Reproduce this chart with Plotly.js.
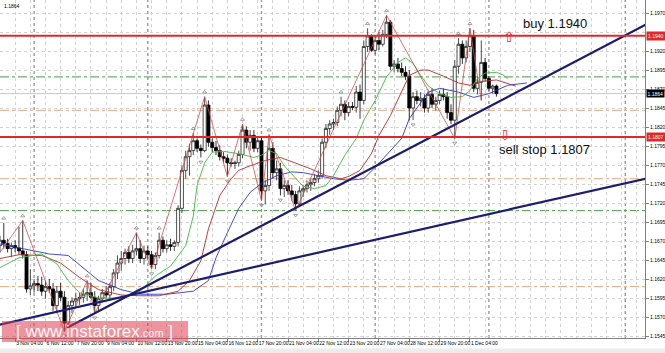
<!DOCTYPE html>
<html><head><meta charset="utf-8">
<script src="https://cdn.plot.ly/plotly-3.0.1.min.js"></script>
<style>html,body{margin:0;padding:0;background:#fff;}#chart{width:665px;height:353px;}</style>
</head><body><div id="chart"></div>
<script>
// ---- candle data (EURUSD H4) ----
const open = [
1.1664,1.1671,1.1667,1.1660,1.1664,1.1661,1.1657,1.1652,1.1607,1.1611,
1.1614,1.1612,1.1604,1.1610,1.1607,1.1585,1.1604,1.1596,1.1562,1.1585,
1.1591,1.1594,1.1596,1.1600,1.1602,1.1596,1.1585,1.1594,1.1602,1.1599,
1.1610,1.1628,1.1641,1.1647,1.1655,1.1647,1.1657,1.1660,1.1647,1.1657,
1.1652,1.1639,1.1651,1.1671,1.1660,1.1665,1.1663,1.1668,1.1713,1.1763,
1.1781,1.1789,1.1802,1.1792,1.1789,1.1849,1.1800,1.1793,1.1789,1.1781,
1.1779,1.1773,1.1772,1.1773,1.1784,1.1816,1.1800,1.1809,1.1792,1.1802,
1.1736,1.1743,1.1792,1.1760,1.1765,1.1739,1.1743,1.1736,1.1731,1.1719,
1.1736,1.1739,1.1744,1.1747,1.1752,1.1756,1.1800,1.1818,1.1824,1.1826,
1.1842,1.1850,1.1839,1.1847,1.1846,1.1866,1.1855,1.1926,1.1940,1.1921,
1.1934,1.1929,1.1942,1.1958,1.1900,1.1903,1.1897,1.1892,1.1887,1.1845,
1.1860,1.1855,1.1858,1.1845,1.1863,1.1850,1.1855,1.1863,1.1860,1.1839,
1.1829,1.1900,1.1929,1.1911,1.1926,1.1940,1.1871,1.1879,1.1905,1.1884,
1.1871,1.1874];
const high = [
1.1677,1.1694,1.1673,1.1668,1.1671,1.1689,1.1697,1.1657,1.1633,1.1620,
1.1624,1.1623,1.1618,1.1620,1.1615,1.1611,1.1615,1.1604,1.1591,1.1596,
1.1602,1.1602,1.1607,1.1618,1.1615,1.1604,1.1598,1.1607,1.1611,1.1615,
1.1633,1.1651,1.1657,1.1660,1.1663,1.1665,1.1681,1.1671,1.1664,1.1663,
1.1657,1.1655,1.1681,1.1676,1.1671,1.1673,1.1671,1.1717,1.1769,1.1789,
1.1798,1.1812,1.1805,1.1797,1.1860,1.1855,1.1805,1.1802,1.1796,1.1787,
1.1784,1.1779,1.1776,1.1789,1.1824,1.1821,1.1816,1.1816,1.1808,1.1808,
1.1750,1.1810,1.1800,1.1776,1.1773,1.1750,1.1750,1.1744,1.1736,1.1742,
1.1744,1.1750,1.1752,1.1758,1.1763,1.1805,1.1824,1.1829,1.1831,1.1847,
1.1860,1.1855,1.1853,1.1853,1.1874,1.1876,1.1934,1.1950,1.1942,1.1940,
1.1945,1.1948,1.1967,1.1961,1.1908,1.1911,1.1905,1.1900,1.1895,1.1866,
1.1868,1.1866,1.1863,1.1868,1.1871,1.1860,1.1868,1.1871,1.1866,1.1850,
1.1908,1.1937,1.1934,1.1934,1.1950,1.1948,1.1887,1.1934,1.1911,1.1887,
1.1876,1.1876];
const low = [
1.1655,1.1660,1.1655,1.1649,1.1655,1.1652,1.1647,1.1602,1.1599,1.1602,
1.1604,1.1598,1.1594,1.1602,1.1578,1.1575,1.1591,1.1551,1.1554,1.1575,
1.1583,1.1586,1.1589,1.1591,1.1594,1.1575,1.1578,1.1589,1.1594,1.1594,
1.1604,1.1620,1.1631,1.1639,1.1641,1.1641,1.1651,1.1641,1.1639,1.1647,
1.1633,1.1633,1.1647,1.1655,1.1655,1.1657,1.1657,1.1663,1.1707,1.1752,
1.1756,1.1783,1.1787,1.1780,1.1787,1.1794,1.1787,1.1783,1.1776,1.1773,
1.1755,1.1768,1.1765,1.1768,1.1779,1.1792,1.1789,1.1787,1.1787,1.1723,
1.1718,1.1736,1.1752,1.1750,1.1730,1.1728,1.1731,1.1723,1.1710,1.1715,
1.1728,1.1734,1.1736,1.1742,1.1747,1.1752,1.1792,1.1810,1.1816,1.1821,
1.1834,1.1829,1.1834,1.1842,1.1839,1.1831,1.1850,1.1919,1.1919,1.1916,
1.1921,1.1926,1.1937,1.1895,1.1892,1.1892,1.1887,1.1882,1.1829,1.1829,
1.1850,1.1847,1.1839,1.1839,1.1845,1.1842,1.1850,1.1855,1.1831,1.1824,
1.1805,1.1890,1.1903,1.1905,1.1919,1.1866,1.1863,1.1855,1.1880,1.1868,
1.1864,1.1860];
const close = [
1.1671,1.1667,1.1660,1.1664,1.1661,1.1657,1.1652,1.1607,1.1611,1.1614,
1.1612,1.1604,1.1610,1.1607,1.1585,1.1604,1.1596,1.1562,1.1585,1.1591,
1.1594,1.1596,1.1600,1.1602,1.1596,1.1585,1.1594,1.1602,1.1599,1.1610,
1.1628,1.1641,1.1647,1.1655,1.1647,1.1657,1.1660,1.1647,1.1657,1.1652,
1.1639,1.1651,1.1671,1.1660,1.1665,1.1663,1.1668,1.1713,1.1763,1.1781,
1.1789,1.1802,1.1792,1.1789,1.1849,1.1800,1.1793,1.1789,1.1781,1.1779,
1.1773,1.1772,1.1773,1.1784,1.1816,1.1800,1.1809,1.1792,1.1802,1.1736,
1.1743,1.1792,1.1760,1.1765,1.1739,1.1743,1.1736,1.1731,1.1719,1.1736,
1.1739,1.1744,1.1747,1.1752,1.1756,1.1800,1.1818,1.1824,1.1826,1.1842,
1.1850,1.1839,1.1847,1.1846,1.1866,1.1855,1.1926,1.1940,1.1921,1.1934,
1.1929,1.1942,1.1958,1.1900,1.1903,1.1897,1.1892,1.1887,1.1845,1.1860,
1.1855,1.1858,1.1845,1.1863,1.1850,1.1855,1.1863,1.1860,1.1839,1.1829,
1.1900,1.1929,1.1911,1.1926,1.1940,1.1871,1.1879,1.1905,1.1884,1.1871,
1.1874,1.1864];

// ---- time axis labels (bar index -> label) ----
const tickBars = [4,12,20,28,36,44,52,60,68,76,84,92,100,108,116,124];
const tickLabels = ['3 Nov 04:00','6 Nov 12:00','7 Nov 20:00','9 Nov 04:00','10 Nov 12:00','13 Nov 20:00',
 '15 Nov 04:00','16 Nov 12:00','17 Nov 20:00','21 Nov 04:00','22 Nov 12:00','23 Nov 20:00',
 '27 Nov 04:00','28 Nov 12:00','29 Nov 20:00','1 Dec 04:00'];
const separatorBars = [9,39,69,99,129,165];

// ---- price scale labels (1.1945 is hidden behind the 1.1940 marker) ----
const priceTicks = [1.1545,1.1570,1.1595,1.1620,1.1645,1.1670,1.1695,1.1720,1.1745,1.1770,1.1795,1.1820,1.1845,1.1870,1.1895,1.1920,1.1970];

// ---- Alligator lines ----
const lipsBars = [0,5,11,15,18,21,26,32,37,41,45,49,51,52,54,56,59,63,67,69,71,73,75,78,80,83,86,88,91,94,96,99,102,105,107,109,111,113,116,119,122,124,126,128,131,133,134];
const lipsVals = [1.1635,1.1648,1.1653,1.1640,1.1618,1.1602,1.1595,1.1595,1.1604,1.1624,1.1637,1.1664,1.1703,1.1743,1.1773,1.1787,1.1788,1.1785,1.1780,1.1783,1.1789,1.1785,1.1769,1.1752,1.1742,1.1739,1.1743,1.1756,1.1783,1.1805,1.1829,1.1855,1.1886,1.1905,1.1911,1.1904,1.1888,1.1874,1.1864,1.1859,1.1860,1.1868,1.1884,1.1891,1.1892,1.1888,1.1883];
const teethBars = [0,5,11,16,21,26,32,37,42,47,50,53,55,58,61,63,66,70,74,78,82,86,90,92,95,98,100,103,106,108,111,113,117,121,124,127,131,135,136];
const teethVals = [1.1647,1.1652,1.1651,1.1641,1.1622,1.1606,1.1599,1.1598,1.1598,1.1604,1.1618,1.1644,1.1686,1.1730,1.1752,1.1763,1.1769,1.1776,1.1780,1.1773,1.1765,1.1756,1.1752,1.1755,1.1763,1.1785,1.1809,1.1835,1.1868,1.1888,1.1895,1.1895,1.1887,1.1878,1.1875,1.1880,1.1882,1.1876,1.1874];
const jawBars = [0,5,13,18,22,26,32,37,44,51,55,57,60,63,66,69,73,77,80,84,88,92,96,99,103,106,108,111,113,116,121,125,129,134,139];
const jawVals = [1.1666,1.1661,1.1653,1.1651,1.1635,1.1618,1.1606,1.1600,1.1600,1.1604,1.1618,1.1648,1.1681,1.1713,1.1734,1.1746,1.1756,1.1761,1.1760,1.1756,1.1752,1.1750,1.1752,1.1767,1.1789,1.1805,1.1831,1.1852,1.1866,1.1871,1.1866,1.1859,1.1864,1.1875,1.1878];

// ---- ZigZag turning points and fractals (bar indices) ----
const zigzagBars = [0,6,17,23,25,36,40,54,60,64,69,71,78,102,120,124,127];
const zigzagSide = ['L','H','L','H','L','H','L','H','L','H','L','H','L','H','L','H','L'];
const fractalUpBars = [1,6,23,36,42,51,54,64,71,90,97,102,121,124];
const fractalDownBars = [17,25,40,53,60,69,74,78,109,120];

// ---- levels and trend lines ----
const redLevels = [1.1940, 1.1807];
const greenLevels = [1.1886, 1.1710];
const orangeLevels = [1.1842, 1.1752, 1.1610];
const lastPrice = 1.1864;
const steepTrendBars = [17.7, 180], steepTrendVals = [1.1556, 1.1980];
const flatTrendBars = [-1, 180], flatTrendVals = [1.1559, 1.1763];

const bars = open.map((_, i) => i);
const yMin = 1.15424, yMax = 1.19872;

const traces = [];
traces.push({type:'scatter', mode:'lines', x:jawBars, y:jawVals, line:{color:'#3535c8', width:0.9}, hoverinfo:'skip'});
traces.push({type:'scatter', mode:'lines', x:teethBars, y:teethVals, line:{color:'#b52a2a', width:0.9}, hoverinfo:'skip'});
traces.push({type:'scatter', mode:'lines', x:lipsBars, y:lipsVals, line:{color:'#3cbc3c', width:0.9}, hoverinfo:'skip'});
traces.push({type:'scatter', mode:'lines', x:zigzagBars,
  y:zigzagBars.map((b, k) => zigzagSide[k] === 'H' ? high[b] : low[b]),
  line:{color:'#d05050', width:0.8}, hoverinfo:'skip'});
traces.push({type:'candlestick', x:bars, open:open, high:high, low:low, close:close,
  increasing:{fillcolor:'#ffffff', line:{color:'#222', width:0.8}},
  decreasing:{fillcolor:'#000000', line:{color:'#000', width:0.8}},
  whiskerwidth:0, hoverinfo:'skip'});
traces.push({type:'scatter', mode:'markers', x:fractalUpBars, y:fractalUpBars.map(b => high[b] + 0.0006),
  marker:{symbol:'triangle-up-open', size:3.5, color:'#8a8a8a', line:{width:0.8}}, hoverinfo:'skip'});
traces.push({type:'scatter', mode:'markers', x:fractalDownBars, y:fractalDownBars.map(b => low[b] - 0.0006),
  marker:{symbol:'triangle-down-open', size:3.5, color:'#8a8a8a', line:{width:0.8}}, hoverinfo:'skip'});
traces.push({type:'scatter', mode:'lines', x:steepTrendBars, y:steepTrendVals, line:{color:'#1c1c70', width:2.2}, hoverinfo:'skip'});
traces.push({type:'scatter', mode:'lines', x:flatTrendBars, y:flatTrendVals, line:{color:'#1c1c70', width:2.2}, hoverinfo:'skip'});

const shapes = [];
separatorBars.forEach(b => shapes.push({type:'line', xref:'x', yref:'paper', x0:b, x1:b, y0:0, y1:1,
  line:{color:'#9a9a9a', width:1.4, dash:'dot'}, layer:'below'}));
greenLevels.forEach(v => shapes.push({type:'line', xref:'paper', yref:'y', x0:0, x1:1, y0:v, y1:v,
  line:{color:'#4a9a4a', width:1, dash:'dashdot'}, layer:'below'}));
orangeLevels.forEach(v => shapes.push({type:'line', xref:'paper', yref:'y', x0:0, x1:1, y0:v, y1:v,
  line:{color:'#e4a884', width:1, dash:'dashdot'}, layer:'below'}));
shapes.push({type:'line', xref:'paper', yref:'y', x0:0, x1:1, y0:lastPrice, y1:lastPrice,
  line:{color:'#c8c8c8', width:1}, layer:'below'});
redLevels.forEach(v => shapes.push({type:'line', xref:'paper', yref:'y', x0:0, x1:1, y0:v, y1:v,
  line:{color:'#e02828', width:2}, layer:'above'}));
// watermark box
shapes.push({type:'rect', xref:'paper', yref:'paper', x0:0.003, x1:0.2915, y0:-0.012, y1:0.05,
  fillcolor:'rgba(222,60,78,0.55)', line:{width:0}, layer:'above'});
// bottom status strip
shapes.push({type:'rect', xref:'paper', yref:'paper', x0:0, x1:1.032, y0:-0.046, y1:-0.031,
  fillcolor:'#ececec', line:{width:0}, layer:'above'});

const F = 'Liberation Sans, Arial, sans-serif';
const annotations = [
  {xref:'x', yref:'y', x:146.4, y:1.1956, text:'buy 1.1940', showarrow:false, font:{family:F, size:13, color:'#111'}},
  {xref:'x', yref:'y', x:143.8, y:1.1790, text:'sell stop 1.1807', showarrow:false, font:{family:F, size:13, color:'#111'}},
  {xref:'x', yref:'y', x:134.2, y:1.1938, text:'⇧', showarrow:false, font:{family:'DejaVu Sans', size:14, color:'#e02828'}},
  {xref:'x', yref:'y', x:133.3, y:1.1810, text:'⇩', showarrow:false, font:{family:'DejaVu Sans', size:14, color:'#e02828'}},
  {xref:'paper', yref:'y', x:1, y:redLevels[0], xanchor:'left', xshift:1, text:'1.1940', showarrow:false, bgcolor:'#e02828', borderpad:1, font:{family:F, size:5, color:'#fff'}},
  {xref:'paper', yref:'y', x:1, y:redLevels[1], xanchor:'left', xshift:1, text:'1.1807', showarrow:false, bgcolor:'#e02828', borderpad:1, font:{family:F, size:5, color:'#fff'}},
  {xref:'paper', yref:'y', x:1, y:lastPrice, xanchor:'left', xshift:1, text:'1.1864', showarrow:false, bgcolor:'#000', borderpad:0.5, font:{family:F, size:5, color:'#fff'}},
  {xref:'paper', yref:'paper', x:0, y:1, xanchor:'left', yanchor:'top', xshift:2, yshift:-1, text:'1.1864', showarrow:false, font:{family:F, size:5, color:'#000'}},
  {xref:'paper', yref:'paper', x:0.147, y:0.019, xanchor:'center', yanchor:'middle', text:'[ www.instaforex<span style="font-size:11px">.com</span> ]', showarrow:false,
   font:{family:F, size:17, color:'rgba(255,255,255,0.95)'}}
];

const layout = {
  width:665, height:353,
  margin:{l:0, r:20, t:0, b:15, pad:0},
  paper_bgcolor:'#ffffff', plot_bgcolor:'#ffffff',
  showlegend:false, boxgap:0.2, boxgroupgap:0,
  font:{family:F, size:5, color:'#000'},
  xaxis:{range:[0,170.2], rangeslider:{visible:false}, tickmode:'array', tickvals:tickBars, ticktext:tickLabels,
    tickangle:0, ticklabelposition:'outside right', ticks:'outside', ticklen:3, tickcolor:'#808080',
    showgrid:true, gridcolor:'#d2d2d2', griddash:'dot', gridwidth:1,
    minor:{tickmode:'linear', tick0:0, dtick:4, showgrid:true, gridcolor:'#d2d2d2', griddash:'dot', ticks:''},
    showline:true, linecolor:'#808080', zeroline:false, tickfont:{family:F, size:5, color:'#000'}},
  yaxis:{side:'right', range:[yMin,yMax], tickmode:'array', tickvals:priceTicks, tickformat:'.4f',
    ticks:'outside', ticklen:3, tickcolor:'#808080', showgrid:false,
    minor:{tickmode:'linear', tick0:1.1545, dtick:0.0025, showgrid:true, gridcolor:'#d2d2d2', griddash:'dot', ticks:''},
    showline:true, linecolor:'#808080', zeroline:false, tickfont:{family:F, size:5, color:'#000'}},
  shapes:shapes, annotations:annotations
};
Plotly.newPlot('chart', traces, layout, {staticPlot:true, displayModeBar:false});
</script></body></html>
